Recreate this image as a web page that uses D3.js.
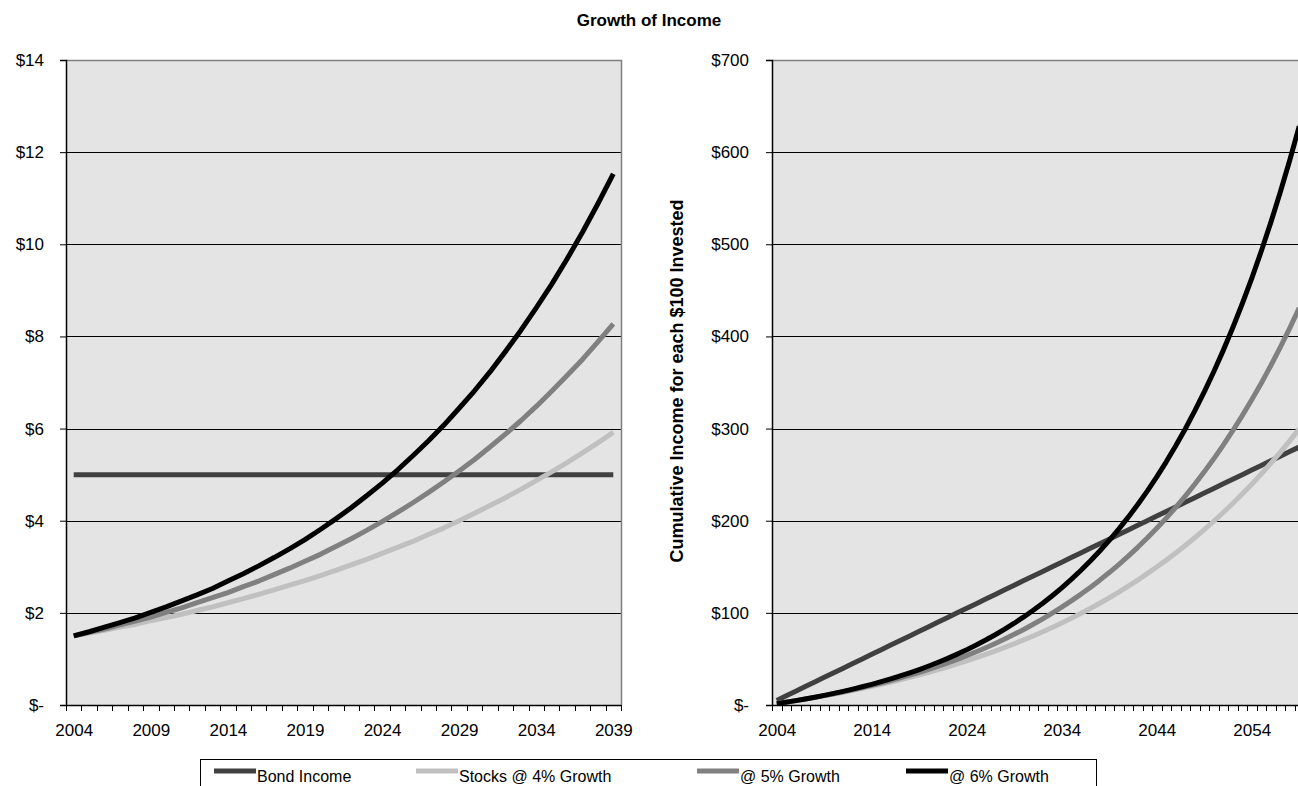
<!DOCTYPE html>
<html>
<head>
<meta charset="utf-8">
<script src="https://cdn.jsdelivr.net/npm/d3@7"></script>
<style>
  html, body { margin: 0; padding: 0; background: #fff; overflow: hidden; }
  svg text { font-family: "Liberation Sans", Arial, Helvetica, sans-serif; fill: #000; }
</style>
</head>
<body>
<svg id="chart" width="1298" height="786"></svg>
<script>
// ---- Data -----------------------------------------------------------------

// Annual income per $100 invested, 2004-2039
const incomeYears = [2004,2005,2006,2007,2008,2009,2010,2011,2012,2013,2014,2015,
  2016,2017,2018,2019,2020,2021,2022,2023,2024,2025,2026,2027,2028,2029,2030,2031,
  2032,2033,2034,2035,2036,2037,2038,2039];
const incomeLabelYears = [2004,2009,2014,2019,2024,2029,2034,2039];
const incomeTicks = [0,2,4,6,8,10,12,14];

const bondIncome = [5,5,5,5,5,5,5,5,5,5,5,5,5,5,5,5,5,5,5,5,5,5,5,5,5,5,5,5,5,5,5,5,5,5,5,5];
const stocks4Income = [1.50,1.56,1.62,1.69,1.75,1.83,1.90,1.97,2.05,2.13,2.22,2.31,2.40,
  2.50,2.60,2.70,2.81,2.92,3.04,3.16,3.29,3.42,3.55,3.70,3.84,4.00,4.16,4.33,4.50,4.68,
  4.87,5.06,5.26,5.47,5.69,5.92];
const stocks5Income = [1.50,1.58,1.65,1.74,1.82,1.91,2.01,2.11,2.22,2.33,2.44,2.57,2.69,
  2.83,2.97,3.12,3.27,3.44,3.61,3.79,3.98,4.18,4.39,4.61,4.84,5.08,5.33,5.60,5.88,6.17,
  6.48,6.81,7.15,7.50,7.88,8.27];
const stocks6Income = [1.50,1.59,1.69,1.79,1.89,2.01,2.13,2.26,2.39,2.53,2.69,2.85,3.02,
  3.20,3.39,3.59,3.81,4.04,4.28,4.54,4.81,5.10,5.41,5.73,6.07,6.44,6.82,7.23,7.67,8.13,
  8.62,9.13,9.68,10.26,10.88,11.53];

// Cumulative income per $100 invested, 2004-2059
const cumulativeYears = [2004,2005,2006,2007,2008,2009,2010,2011,2012,2013,2014,2015,
  2016,2017,2018,2019,2020,2021,2022,2023,2024,2025,2026,2027,2028,2029,2030,2031,
  2032,2033,2034,2035,2036,2037,2038,2039,2040,2041,2042,2043,2044,2045,2046,2047,
  2048,2049,2050,2051,2052,2053,2054,2055,2056,2057,2058,2059];
const cumulativeLabelYears = [2004,2014,2024,2034,2044,2054];
const cumulativeTicks = [0,100,200,300,400,500,600,700];

const bondCumulative = [5,10,15,20,25,30,35,40,45,50,55,60,65,70,75,80,85,90,95,100,
  105,110,115,120,125,130,135,140,145,150,155,160,165,170,175,180,185,190,195,200,
  205,210,215,220,225,230,235,240,245,250,255,260,265,270,275,280];
const stocks4Cumulative = [1.50,3.06,4.68,6.37,8.12,9.95,11.85,13.82,15.87,18.01,20.23,
  22.54,24.94,27.44,30.04,32.74,35.55,38.47,41.51,44.67,47.95,51.37,54.93,58.62,62.47,
  66.47,70.63,74.95,79.45,84.13,88.99,94.05,99.31,104.79,110.48,116.40,122.55,128.96,
  135.61,142.54,149.74,157.23,165.02,173.12,181.54,190.31,199.42,208.89,218.75,229.00,
  239.66,250.75,262.28,274.27,286.74,299.71];
const stocks5Cumulative = [1.50,3.08,4.73,6.47,8.29,10.20,12.21,14.32,16.54,18.87,21.31,
  23.88,26.57,29.40,32.37,35.49,38.76,42.20,45.81,49.60,53.58,57.76,62.15,66.75,71.59,
  76.67,82.00,87.60,93.48,99.66,106.14,112.95,120.10,127.60,135.48,143.75,152.44,161.56,
  171.14,181.20,191.76,202.85,214.49,226.71,239.55,253.03,267.18,282.04,297.64,314.02,
  331.22,349.28,368.25,388.16,409.07,431.02];
const stocks6Cumulative = [1.50,3.09,4.78,6.56,8.46,10.46,12.59,14.85,17.24,19.77,22.46,
  25.30,28.32,31.52,34.91,38.51,42.32,46.36,50.64,55.18,59.99,65.09,70.49,76.22,82.30,
  88.73,95.56,102.79,110.46,118.59,127.20,136.33,146.01,156.28,167.15,178.68,190.90,
  203.86,217.59,232.14,247.57,263.93,281.26,299.64,319.12,339.76,361.65,384.85,409.44,
  435.50,463.13,492.42,523.47,556.38,591.26,628.23];

const seriesNames = ["Bond Income", "Stocks @ 4% Growth", "@ 5% Growth", "@ 6% Growth"];
const seriesColors = ["#404040", "#c0c0c0", "#808080", "#000000"];

// ---- Drawing ----------------------------------------------------------------

const svg = d3.select("#chart");
const TICK_FONT = 17;
const LEGEND_FONT = 16;

svg.append("text")
  .attr("x", 649).attr("y", 26)
  .attr("text-anchor", "middle")
  .style("font-size", "17px").style("font-weight", "bold")
  .text("Growth of Income");

function drawPanel(opts) {
  const { left, right, top, bottom, years, labelYears, ticks, yMax, series, labelX } = opts;
  const g = svg.append("g");

  const band = d3.scaleBand().domain(years).range([left, right]).paddingInner(0).paddingOuter(0);
  const bw = band.bandwidth();
  const x = d3.scalePoint().domain(years).range([left + bw / 2, right - bw / 2]);
  const y = d3.scaleLinear().domain([0, yMax]).range([bottom, top]);

  // plot background
  g.append("rect")
    .attr("x", left).attr("y", top)
    .attr("width", right - left).attr("height", bottom - top)
    .attr("fill", "#e4e4e4");

  // horizontal gridlines
  g.append("g").selectAll("line")
    .data(ticks.filter(t => t > 0 && t < yMax))
    .join("line")
    .attr("x1", left).attr("x2", right)
    .attr("y1", d => Math.round(y(d)) + 0.5).attr("y2", d => Math.round(y(d)) + 0.5)
    .attr("stroke", "#000").attr("stroke-width", 1);

  // top and right borders
  g.append("path")
    .attr("d", `M${left},${Math.round(top) + 0.5}H${right + 0.5}V${bottom}`)
    .attr("fill", "none").attr("stroke", "#808080").attr("stroke-width", 1.5);

  // series lines
  const line = d3.line().x((d, i) => x(years[i])).y(d => y(d));
  series.forEach((values, i) => {
    g.append("path")
      .datum(values)
      .attr("d", line)
      .attr("fill", "none")
      .attr("stroke", seriesColors[i])
      .attr("stroke-width", 5)
      .attr("stroke-linejoin", "round");
  });

  // y axis
  const yAxis = d3.axisLeft(y)
    .tickValues(ticks)
    .tickFormat(d => d === 0 ? "$-" : "$" + d)
    .tickSize(6)
    .tickPadding(labelX);
  const ya = g.append("g").attr("transform", `translate(${left},0)`).call(yAxis);
  ya.select(".domain").attr("stroke", "#000").attr("stroke-width", 1.5);
  ya.selectAll(".tick line").attr("stroke", "#000");
  ya.selectAll(".tick text").style("font-size", TICK_FONT + "px").attr("fill", "#000");

  // x axis: labels at category centres, ticks at category boundaries
  const xAxis = d3.axisBottom(x).tickValues(labelYears).tickSize(0).tickPadding(19);
  const xa = g.append("g").attr("transform", `translate(0,${bottom})`).call(xAxis);
  xa.select(".domain").remove();
  xa.selectAll(".tick text").style("font-size", TICK_FONT + "px").attr("fill", "#000");

  const boundaries = years.map(d => band(d)).concat([right]);
  g.append("g").selectAll("line")
    .data(boundaries)
    .join("line")
    .attr("x1", d => Math.round(d) + 0.5).attr("x2", d => Math.round(d) + 0.5)
    .attr("y1", bottom).attr("y2", bottom + 6)
    .attr("stroke", "#000").attr("stroke-width", 1);
  g.append("line")
    .attr("x1", left).attr("x2", right)
    .attr("y1", bottom + 0.5).attr("y2", bottom + 0.5)
    .attr("stroke", "#000").attr("stroke-width", 1.5);
}

drawPanel({
  left: 66, right: 621, top: 60, bottom: 705,
  years: incomeYears, labelYears: incomeLabelYears,
  ticks: incomeTicks, yMax: 14, labelX: 16,
  series: [bondIncome, stocks4Income, stocks5Income, stocks6Income]
});

drawPanel({
  left: 772, right: 1304, top: 60, bottom: 705,
  years: cumulativeYears, labelYears: cumulativeLabelYears,
  ticks: cumulativeTicks, yMax: 700, labelX: 17,
  series: [bondCumulative, stocks4Cumulative, stocks5Cumulative, stocks6Cumulative]
});

// y-axis title of the cumulative panel
svg.append("text")
  .attr("transform", "translate(683,381) rotate(-90)")
  .attr("text-anchor", "middle")
  .style("font-size", "18px").style("font-weight", "bold")
  .text("Cumulative Income for each $100 Invested");

// legend
const legend = svg.append("g");
legend.append("rect")
  .attr("x", 200.5).attr("y", 759.5)
  .attr("width", 896).attr("height", 40)
  .attr("fill", "#fff").attr("stroke", "#000").attr("stroke-width", 1);

const legendX = [214, 416, 697, 906];
seriesNames.forEach((name, i) => {
  const item = legend.append("g").attr("transform", `translate(${legendX[i]},0)`);
  item.append("line")
    .attr("x1", 0).attr("x2", 42)
    .attr("y1", 771).attr("y2", 771)
    .attr("stroke", seriesColors[i]).attr("stroke-width", 5);
  item.append("text")
    .attr("x", 43).attr("y", 782)
    .style("font-size", LEGEND_FONT + "px")
    .text(name);
});
</script>
</body>
</html>
